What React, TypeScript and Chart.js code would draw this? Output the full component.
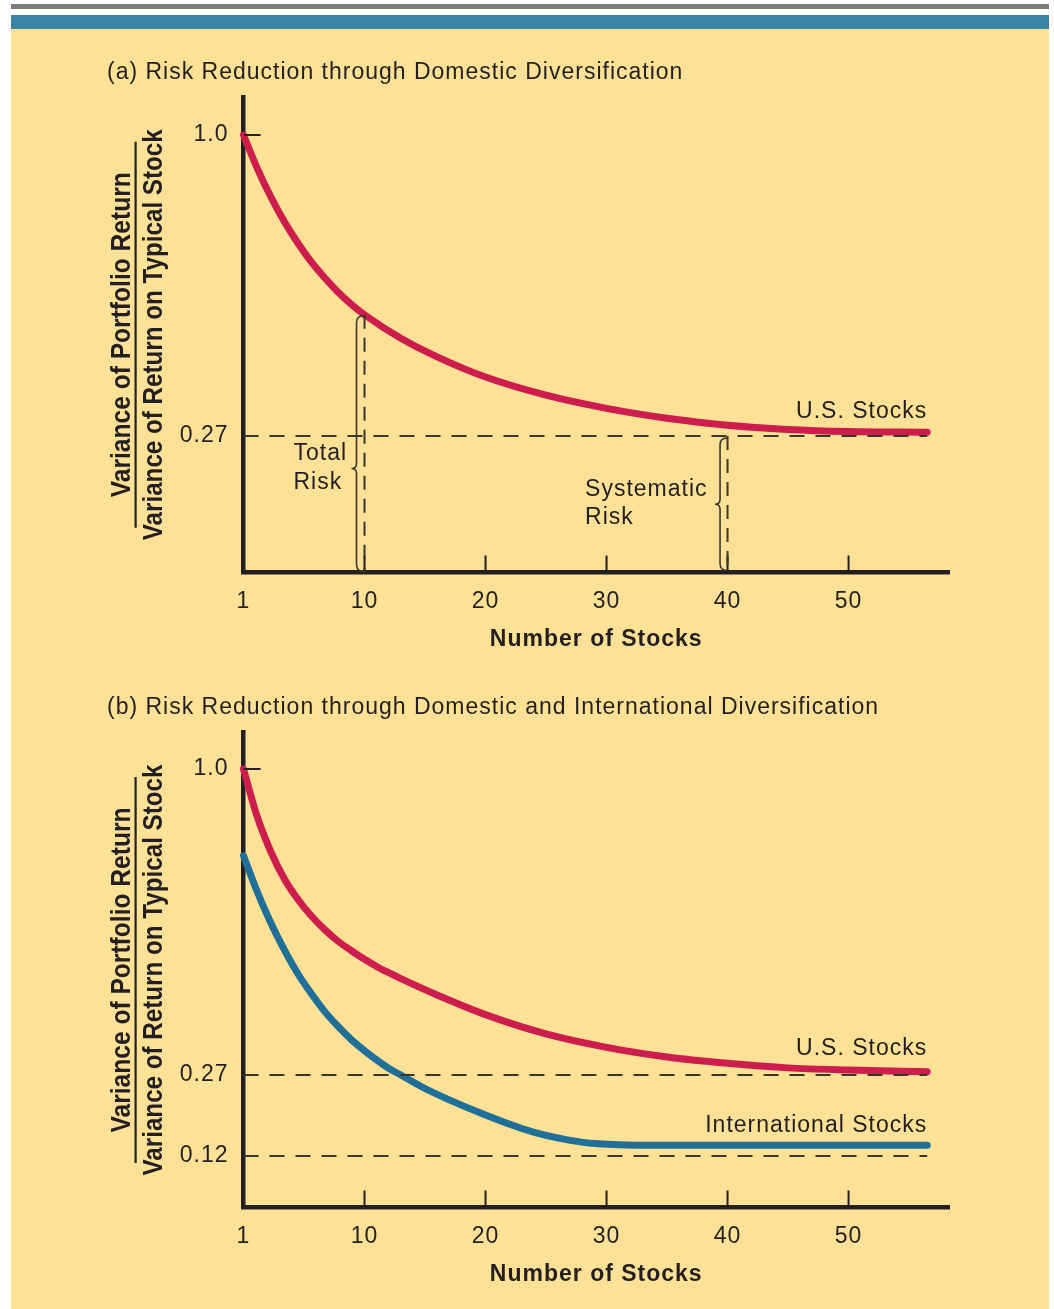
import React, { useEffect, useRef } from 'react';
import { Chart, LinearScale, registerables } from 'chart.js';

// ---------- text ----------
const TITLE_A = '(a) Risk Reduction through Domestic Diversification';
const TITLE_B = '(b) Risk Reduction through Domestic and International Diversification';
const Y_TITLE_NUM = 'Variance of Portfolio Return';
const Y_TITLE_DEN = 'Variance of Return on Typical Stock';
const X_TITLE = 'Number of Stocks';
const US_LABEL = 'U.S. Stocks';
const INTL_LABEL = 'International Stocks';
const TOTAL_RISK_LINES = ['Total', 'Risk'];
const SYSTEMATIC_RISK_LINES = ['Systematic', 'Risk'];

// ---------- ticks ----------
const X_TICKS = [1, 10, 20, 30, 40, 50];
const X_TICK_LABELS = ['1', '10', '20', '30', '40', '50'];
const Y_TICKS_A = [1.0, 0.27];
const Y_TICK_LABELS_A = ['1.0', '0.27'];
const Y_TICKS_B = [1.0, 0.27, 0.12];
const Y_TICK_LABELS_B = ['1.0', '0.27', '0.12'];

// ---------- series (number of stocks -> variance ratio) ----------
const US_A_N = [1, 2, 3, 4, 5, 6, 7, 8, 9, 10, 13, 16, 20, 25, 30, 35, 40, 45, 50, 56.5];
const US_A_VAR = [1.0, 0.921, 0.852, 0.792, 0.74, 0.694, 0.655, 0.62, 0.59, 0.564, 0.507, 0.462, 0.413, 0.369, 0.337, 0.313, 0.296, 0.286, 0.281, 0.279];

const US_B_N = [1, 2, 3, 4, 5, 6, 7, 8, 9, 10, 11, 12, 13, 16, 20, 25, 30, 35, 40, 45, 50, 56.5];
const US_B_VAR = [1.0, 0.888, 0.805, 0.74, 0.691, 0.651, 0.618, 0.59, 0.567, 0.546, 0.529, 0.514, 0.5, 0.461, 0.414, 0.368, 0.336, 0.313, 0.298, 0.287, 0.282, 0.278];

const INTL_B_N = [1, 2, 3, 4, 5, 6, 7, 8, 9, 10, 11, 12, 13, 15, 17, 20, 23, 25, 27, 29, 31, 34, 45, 56.5];
const INTL_B_VAR = [0.793, 0.709, 0.635, 0.571, 0.514, 0.466, 0.423, 0.387, 0.355, 0.328, 0.306, 0.286, 0.27, 0.245, 0.224, 0.196, 0.171, 0.158, 0.149, 0.143, 0.141, 0.14, 0.14, 0.14];

const REF_LEVELS_A = [0.27];
const REF_LEVELS_B = [0.27, 0.12];
const REF_SPAN = [1, 56.5];

const TOTAL_RISK_N = 10;
const SYSTEMATIC_RISK_N = 40;
const SYSTEMATIC_LEVEL = 0.27;

// ---------- styles ----------
const INK = '#231f20';
const DASH_INK = '#3a362c';
const RED = '#cc1d4c';
const BLUE = '#1f6f99';
const FONT = "'Liberation Sans', Arial, Helvetica, sans-serif";

// ---------- schematic (non-uniform) axes of the original figure ----------
type Warp = [number, number][];
const X_WARP: Warp = [[1, 0], [10, 10], [100, 100]];
const Y_WARP_A: Warp = [[0, 0], [1, 1]];
const Y_WARP_B: Warp = [[0.12, 0.0768], [0.27, 0.27], [1, 1]];
const WARPS: Record<string, Warp> = { xa: X_WARP, xb: X_WARP, ya: Y_WARP_A, yb: Y_WARP_B };

function warpValue(pts: Warp, v: number, inverse = false) {
  const a = inverse ? 1 : 0;
  const b = inverse ? 0 : 1;
  const n = pts.length;
  let i = 0;
  if (v >= pts[n - 1][a]) i = n - 2;
  else if (v > pts[0][a]) {
    while (i < n - 2 && v > pts[i + 1][a]) i++;
  }
  const p0 = pts[i];
  const p1 = pts[i + 1];
  return p0[b] + ((v - p0[a]) * (p1[b] - p0[b])) / (p1[a] - p0[a]);
}

class WarpScale extends LinearScale {
  static id = 'warp';
  static defaults = LinearScale.defaults;
  getPixelForValue(value: number) {
    const w = WARPS[(this as any).id];
    return super.getPixelForValue(w ? warpValue(w, value) : value);
  }
  getValueForPixel(pixel: number) {
    const d = super.getValueForPixel(pixel) as number;
    const w = WARPS[(this as any).id];
    return w ? warpValue(w, d, true) : d;
  }
}

Chart.register(...registerables, WarpScale as any);

// ---------- helpers ----------
const pts = (xs: number[], ys: number[]) => xs.map((x, i) => ({ x, y: ys[i] }));

function curve(label: string, xs: number[], ys: number[], color: string, ids: [string, string]) {
  return {
    label,
    data: pts(xs, ys),
    xAxisID: ids[0],
    yAxisID: ids[1],
    borderColor: color,
    borderWidth: 7,
    borderCapStyle: 'round',
    borderJoinStyle: 'round',
    pointRadius: 0,
    fill: false,
    cubicInterpolationMode: 'monotone',
    clip: false,
    order: 1,
  };
}

function refLine(level: number, ids: [string, string]) {
  return {
    label: 'ref ' + level,
    data: pts(REF_SPAN, REF_SPAN.map(() => level)),
    xAxisID: ids[0],
    yAxisID: ids[1],
    borderColor: DASH_INK,
    borderWidth: 2,
    borderDash: [15, 11],
    pointRadius: 0,
    fill: false,
    tension: 0,
    clip: false,
    order: 0,
  };
}

function xScale() {
  return {
    type: 'warp',
    position: 'bottom',
    min: 0,
    max: 58.3,
    bounds: 'data',
    grid: { display: true, drawOnChartArea: false, drawTicks: false },
    border: { display: true, color: INK, width: 4.5 },
    ticks: {
      autoSkip: false,
      maxRotation: 0,
      minRotation: 0,
      padding: 15,
      color: INK,
      font: { family: FONT, size: 23 },
      callback: (_v: any, i: number) => X_TICK_LABELS[i],
    },
    afterBuildTicks: (s: any) => {
      s.ticks = X_TICKS.map((v) => ({ value: v }));
    },
    afterFit: (s: any) => {
      s.height = 82;
    },
    title: {
      display: true,
      text: X_TITLE,
      color: INK,
      font: { family: FONT, size: 23, weight: 'bold' },
      padding: { top: 0, bottom: 1 },
    },
  };
}

function yScale(min: number, max: number, ticks: number[], labels: string[]) {
  return {
    type: 'warp',
    position: 'left',
    min,
    max,
    bounds: 'data',
    grid: { display: true, drawOnChartArea: false, drawTicks: false },
    border: { display: true, color: INK, width: 4.5 },
    ticks: {
      autoSkip: false,
      padding: 15,
      color: INK,
      font: { family: FONT, size: 23 },
      callback: (_v: any, i: number) => labels[i],
    },
    afterBuildTicks: (s: any) => {
      s.ticks = ticks.map((v) => ({ value: v }));
    },
    afterFit: (s: any) => {
      s.width = 243.5;
    },
  };
}

function drawRotatedFitted(ctx: CanvasRenderingContext2D, text: string, xBase: number, yCenter: number, length: number) {
  ctx.save();
  ctx.font = `bold 27px ${FONT}`;
  (ctx as any).letterSpacing = '0px';
  const w = ctx.measureText(text).width;
  ctx.translate(xBase, yCenter);
  ctx.rotate(-Math.PI / 2);
  ctx.scale(length / w, 1);
  ctx.textAlign = 'center';
  ctx.textBaseline = 'alphabetic';
  ctx.fillStyle = INK;
  ctx.fillText(text, 0, 0);
  ctx.restore();
}

function drawBrace(ctx: CanvasRenderingContext2D, x: number, top: number, bottom: number, tipY: number) {
  const hook = 7;
  const tip = 5;
  ctx.save();
  ctx.strokeStyle = DASH_INK;
  ctx.lineWidth = 1.6;
  ctx.beginPath();
  ctx.moveTo(x + hook, top);
  ctx.quadraticCurveTo(x, top, x, top + hook);
  ctx.lineTo(x, tipY - tip);
  ctx.quadraticCurveTo(x, tipY, x - tip, tipY);
  ctx.quadraticCurveTo(x, tipY, x, tipY + tip);
  ctx.lineTo(x, bottom - hook);
  ctx.quadraticCurveTo(x, bottom, x + hook, bottom);
  ctx.stroke();
  ctx.restore();
}

function dashedV(ctx: CanvasRenderingContext2D, x: number, y0: number, y1: number) {
  ctx.save();
  ctx.strokeStyle = DASH_INK;
  ctx.lineWidth = 2;
  ctx.setLineDash([14, 9]);
  ctx.beginPath();
  ctx.moveTo(x, y0);
  ctx.lineTo(x, y1);
  ctx.stroke();
  ctx.restore();
}

function text(ctx: CanvasRenderingContext2D, s: string, x: number, y: number, align: CanvasTextAlign, bold = false) {
  ctx.save();
  ctx.font = `${bold ? 'bold ' : ''}23px ${FONT}`;
  (ctx as any).letterSpacing = '1px';
  ctx.fillStyle = INK;
  ctx.textAlign = align;
  ctx.textBaseline = 'middle';
  ctx.fillText(s, x, y);
  ctx.restore();
}

function decoPlugin(panel: 'a' | 'b') {
  return {
    id: 'deco' + panel,
    beforeDraw(chart: any) {
      chart.ctx.letterSpacing = '1px';
    },
    afterDraw(chart: any) {
      const ctx: CanvasRenderingContext2D = chart.ctx;
      const ca = chart.chartArea;
      const xs = chart.scales['x' + panel];
      const ys = chart.scales['y' + panel];
      // panel title
      text(ctx, panel === 'a' ? TITLE_A : TITLE_B, 107, ca.top - 24.5, 'left');
      // fraction-style y title
      const cy = (ca.top + ca.bottom) / 2;
      drawRotatedFitted(ctx, Y_TITLE_NUM, 130, cy, 325);
      drawRotatedFitted(ctx, Y_TITLE_DEN, 162, cy, 411);
      ctx.save();
      ctx.fillStyle = INK;
      ctx.fillRect(134.5, cy - 193, 2.2, 386);
      ctx.restore();
      // inner tick marks
      ctx.save();
      ctx.strokeStyle = INK;
      ctx.lineWidth = 2;
      ctx.beginPath();
      const y1 = ys.getPixelForValue(1.0);
      ctx.moveTo(ca.left, y1);
      ctx.lineTo(ca.left + 17, y1);
      X_TICKS.filter((v) => v !== 1).forEach((v) => {
        const px = xs.getPixelForValue(v);
        ctx.moveTo(px, ca.bottom);
        ctx.lineTo(px, ca.bottom - 17);
      });
      ctx.stroke();
      ctx.restore();

      if (panel === 'a') {
        const lastX = xs.getPixelForValue(US_A_N[US_A_N.length - 1]);
        text(ctx, US_LABEL, lastX, ys.getPixelForValue(US_A_VAR[US_A_VAR.length - 1]) - 21, 'right');
        const y27 = ys.getPixelForValue(SYSTEMATIC_LEVEL);
        // total risk
        const x10 = xs.getPixelForValue(TOTAL_RISK_N);
        const yTop = ys.getPixelForValue(US_A_VAR[US_A_N.indexOf(TOTAL_RISK_N)]);
        dashedV(ctx, x10, yTop, ca.bottom);
        const tY1 = y27 + 18;
        const tY2 = y27 + 47;
        drawBrace(ctx, x10 - 8, yTop + 1, ca.bottom - 1, (tY1 + tY2) / 2);
        text(ctx, TOTAL_RISK_LINES[0], x10 - 71, tY1, 'left');
        text(ctx, TOTAL_RISK_LINES[1], x10 - 71, tY2, 'left');
        // systematic risk
        const x40 = xs.getPixelForValue(SYSTEMATIC_RISK_N);
        dashedV(ctx, x40, y27, ca.bottom);
        drawBrace(ctx, x40 - 7.5, y27 + 2, ca.bottom - 2, (y27 + ca.bottom) / 2);
        text(ctx, SYSTEMATIC_RISK_LINES[0], x40 - 142.5, y27 + 54, 'left');
        text(ctx, SYSTEMATIC_RISK_LINES[1], x40 - 142.5, y27 + 82, 'left');
      } else {
        const lastUS = xs.getPixelForValue(US_B_N[US_B_N.length - 1]);
        text(ctx, US_LABEL, lastUS, ys.getPixelForValue(US_B_VAR[US_B_VAR.length - 1]) - 23, 'right');
        const lastIn = xs.getPixelForValue(INTL_B_N[INTL_B_N.length - 1]);
        text(ctx, INTL_LABEL, lastIn, ys.getPixelForValue(INTL_B_VAR[INTL_B_VAR.length - 1]) - 20, 'right');
      }
    },
  };
}

function baseOptions(padTop: number, padBottom: number, scales: any) {
  return {
    animation: false,
    responsive: false,
    devicePixelRatio: 1,
    events: [],
    layout: { padding: { left: 0, right: 105, top: padTop, bottom: padBottom } },
    plugins: { legend: { display: false }, tooltip: { enabled: false }, title: { display: false } },
    scales,
  };
}

function configA(): any {
  const ids: [string, string] = ['xa', 'ya'];
  return {
    type: 'line',
    data: {
      datasets: [
        ...REF_LEVELS_A.map((l) => refLine(l, ids)),
        curve('U.S. Stocks', US_A_N, US_A_VAR, RED, ids),
      ],
    },
    options: baseOptions(68, 14.5, {
      xa: xScale(),
      ya: yScale(-0.0611, 1.0922, Y_TICKS_A, Y_TICK_LABELS_A),
    }),
    plugins: [decoPlugin('a')],
  };
}

function configB(): any {
  const ids: [string, string] = ['xb', 'yb'];
  return {
    type: 'line',
    data: {
      datasets: [
        ...REF_LEVELS_B.map((l) => refLine(l, ids)),
        curve('U.S. Stocks', US_B_N, US_B_VAR, RED, ids),
        curve('International Stocks', INTL_B_N, INTL_B_VAR, BLUE, ids),
      ],
    },
    options: baseOptions(63.5, 19.5, {
      xb: xScale(),
      yb: yScale(-0.0461, 1.0871, Y_TICKS_B, Y_TICK_LABELS_B),
    }),
    plugins: [decoPlugin('b')],
  };
}

export default function App() {
  const refA = useRef<HTMLCanvasElement>(null);
  const refB = useRef<HTMLCanvasElement>(null);
  useEffect(() => {
    const a = new Chart(refA.current as HTMLCanvasElement, configA());
    const b = new Chart(refB.current as HTMLCanvasElement, configB());
    return () => {
      a.destroy();
      b.destroy();
    };
  }, []);
  const abs = (o: any) => ({ position: 'absolute' as const, ...o });
  return (
    <div style={abs({ left: 0, top: 0, width: 1054, height: 1309, background: '#ffffff', overflow: 'hidden' })}>
      <div style={abs({ left: 11, top: 4, width: 1038, height: 5, background: '#7e7a79' })} />
      <div style={abs({ left: 11, top: 15, width: 1038, height: 14, background: '#3a84a6' })} />
      <div style={abs({ left: 11, top: 29, width: 1038, height: 1280, background: '#fce196' })} />
      <canvas ref={refA} width={1054} height={640} style={abs({ left: 0, top: 29, width: 1054, height: 640 })} />
      <canvas ref={refB} width={1054} height={640} style={abs({ left: 0, top: 669, width: 1054, height: 640 })} />
    </div>
  );
}
